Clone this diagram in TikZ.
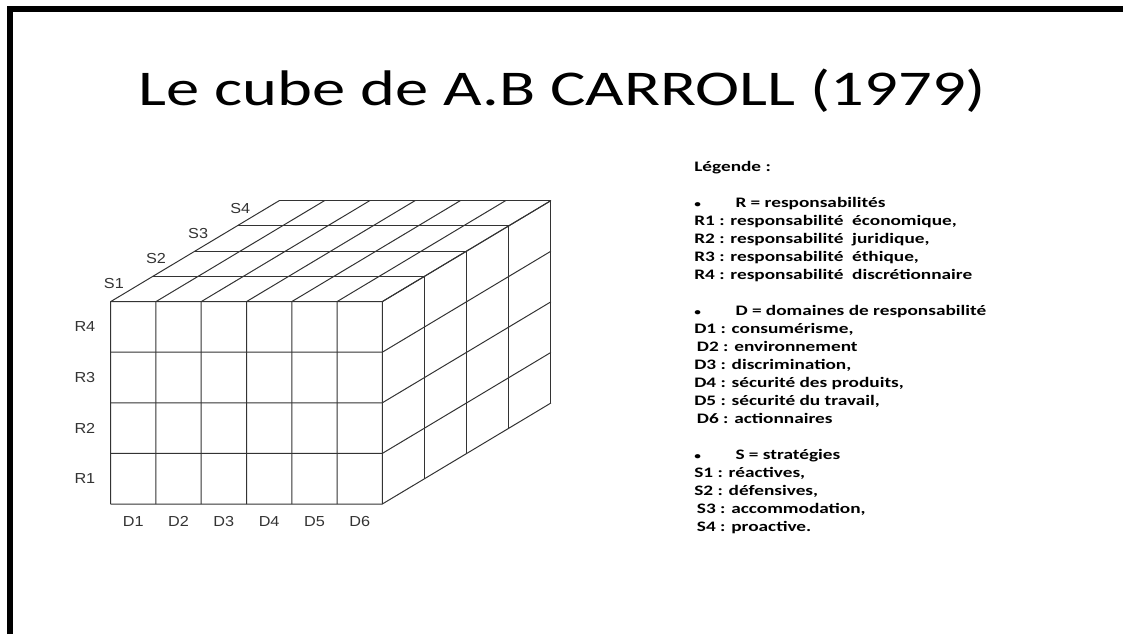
\documentclass[tikz,border=0pt]{standalone}
\usepackage{fontspec}
\setmainfont{Carlito}
\newfontfamily\cubefont{Liberation Sans}
\usepackage{tikz}
\definecolor{cubegray}{HTML}{333333}
\newcommand\legbul[1]{\makebox[31pt][l]{\fontsize{10}{10}\selectfont\textbullet}#1}
\tikzset{
  cube line/.style={cubegray, line width=1pt, line join=miter},
  axis label/.style={font=\cubefont\fontsize{14.5}{14.5}\selectfont, text=cubegray, inner sep=0pt, xscale=1.12, transform shape},
  legend line/.style={font=\bfseries\fontsize{14.5}{16}\selectfont, anchor=base west, inner sep=0pt, xscale=1.33, transform shape},
}

\begin{document}
\begin{tikzpicture}[x=1pt, y=-1pt]
   \useasboundingbox (0,0) rectangle (1123,634);
   % slide frame
   \draw[line width=6pt] (10,634) -- (10,9) -- (1123,9);
   \node [anchor=base west, inner sep=0pt, font=\fontsize{50}{50}\selectfont, xscale=1.33, transform shape] (title) at (138,105) {Le cube de A.B CARROLL (1979)};
   % the cube: x = domaines, y = responsabilites, z = strategies
   \begin{scope}[shift={(110.7,504)}, x={(45.27pt,0pt)}, y={(0pt,50.6pt)}, z={(42.15pt,25.25pt)}]
      \foreach \i in {0,...,6}
         \draw [cube line] (\i,0,0) -- (\i,4,0) -- (\i,4,4);
      \foreach \j in {0,...,4}
         \draw [cube line] (0,\j,0) -- (6,\j,0) -- (6,\j,4);
      \foreach \k in {0,...,4}
         \draw [cube line] (0,4,\k) -- (6,4,\k) -- (6,0,\k);
      \foreach \j in {1,...,4}
         \node [axis label] (r\j) at (-0.57,\j-0.5,0) {R\j};
      \foreach \i in {1,...,6}
         \node [axis label] (d\i) at (\i-0.5,-0.35,0) {D\i};
      \foreach \k in {1,...,4}
         \node [axis label, xshift=-16pt, yshift=5pt] (s\k) at (0,4,\k-0.5) {S\k};
   \end{scope}
   % legend
   \foreach \n/\t in {0/{Légende :},
         2/{\legbul{R = responsabilités}},
         3/{R1 : responsabilité\ \ économique,},
         4/{R2 : responsabilité\ \ juridique,},
         5/{R3 : responsabilité\ \ éthique,},
         6/{R4 : responsabilité\ \ discrétionnaire},
         8/{\legbul{D = domaines de responsabilité}},
         9/{D1 : consumérisme,},
         10/{\hspace*{2pt}D2 : environnement},
         11/{D3 : discrimination,},
         12/{D4 : sécurité des produits,},
         13/{D5 : sécurité du travail,},
         14/{\hspace*{2pt}D6 : actionnaires},
         16/{\legbul{S = stratégies}},
         17/{S1 : réactives,},
         18/{S2 : défensives,},
         19/{\hspace*{2pt}S3 : accommodation,},
         20/{\hspace*{2pt}S4 : proactive.}}
      \node [legend line] (leg\n) at (694,171.7+18*\n) {\t};
\end{tikzpicture}
\end{document}
